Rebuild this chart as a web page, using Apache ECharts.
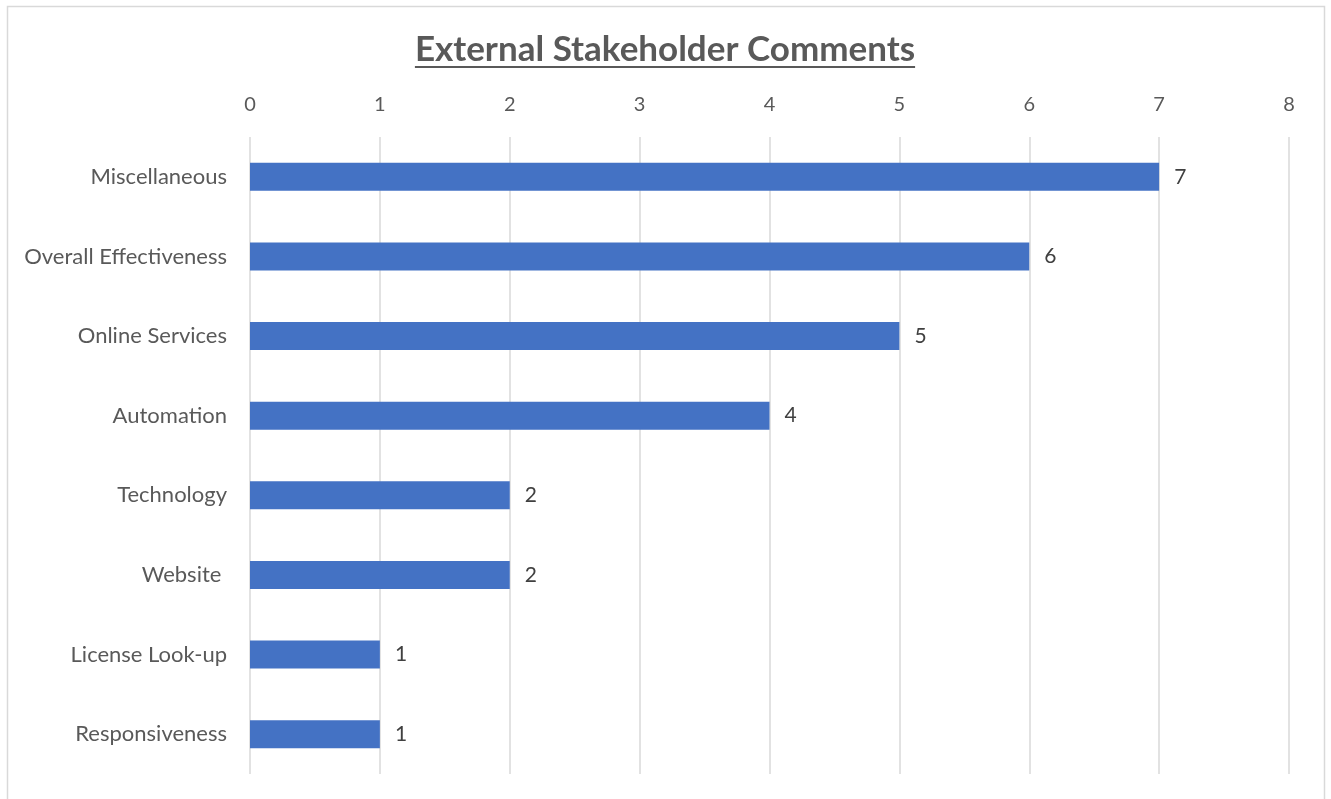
<!DOCTYPE html>
<html>
<head>
<meta charset="utf-8">
<script src="https://cdn.jsdelivr.net/npm/echarts@6/dist/echarts.min.js"></script>
<style>
  html, body { margin: 0; padding: 0; background: #ffffff; }
  #chart { width: 1331px; height: 799px; }
</style>
</head>
<body>
<div id="chart"></div>
<script>
// Comment topics and how many comments each received
const categories = [
  'Miscellaneous',
  'Overall Effectiveness',
  'Online Services',
  'Automation',
  'Technology',
  'Website ',
  'License Look-up',
  'Responsiveness'
];
const commentCounts = [7, 6, 5, 4, 2, 2, 1, 1];
const titleText = 'External Stakeholder Comments';

const FONT = 'Lato, "Open Sans", "Noto Sans", sans-serif';
const TITLE_FONT = 'bold 35px ' + FONT;
const chart = echarts.init(document.getElementById('chart'), null, { renderer: 'canvas' });

// measure title width for the underline
const ctx = document.createElement('canvas').getContext('2d');
ctx.font = TITLE_FONT;
const titleW = ctx.measureText(titleText).width;
const titleCx = 665;

chart.setOption({
  animation: false,
  backgroundColor: '#ffffff',
  grid: { left: 250, right: 42, top: 137, bottom: 25, containLabel: false },
  xAxis: {
    type: 'value',
    position: 'top',
    min: 0,
    max: 8,
    interval: 1,
    axisLine: { show: false },
    axisTick: { show: false },
    axisLabel: { color: '#595959', fontSize: 20, fontFamily: FONT, margin: 22 },
    splitLine: { show: true, lineStyle: { color: '#d9d9d9', width: 1.5 } }
  },
  yAxis: {
    type: 'category',
    data: categories,
    inverse: true,
    axisLine: { show: false },
    axisTick: { show: false },
    axisLabel: { color: '#595959', fontSize: 22, fontFamily: FONT, margin: 23 }
  },
  series: [{
    type: 'bar',
    data: commentCounts,
    barWidth: 28,
    itemStyle: { color: '#4472c4' },
    label: {
      show: true,
      position: 'right',
      distance: 15,
      color: '#404040',
      fontSize: 21,
      fontFamily: FONT
    }
  }],
  graphic: [
    {
      type: 'rect',
      silent: true,
      shape: { x: 7.5, y: 6.5, width: 1317, height: 800 },
      style: { fill: null, stroke: '#d9d9d9', lineWidth: 1.5 }
    },
    {
      type: 'text',
      x: titleCx,
      y: 50,
      style: {
        text: titleText,
        fill: '#595959',
        font: TITLE_FONT,
        align: 'center',
        verticalAlign: 'middle'
      }
    },
    {
      type: 'line',
      silent: true,
      shape: { x1: titleCx - titleW / 2, y1: 67, x2: titleCx + titleW / 2, y2: 67 },
      style: { stroke: '#595959', lineWidth: 2 }
    }
  ]
});
</script>
</body>
</html>
